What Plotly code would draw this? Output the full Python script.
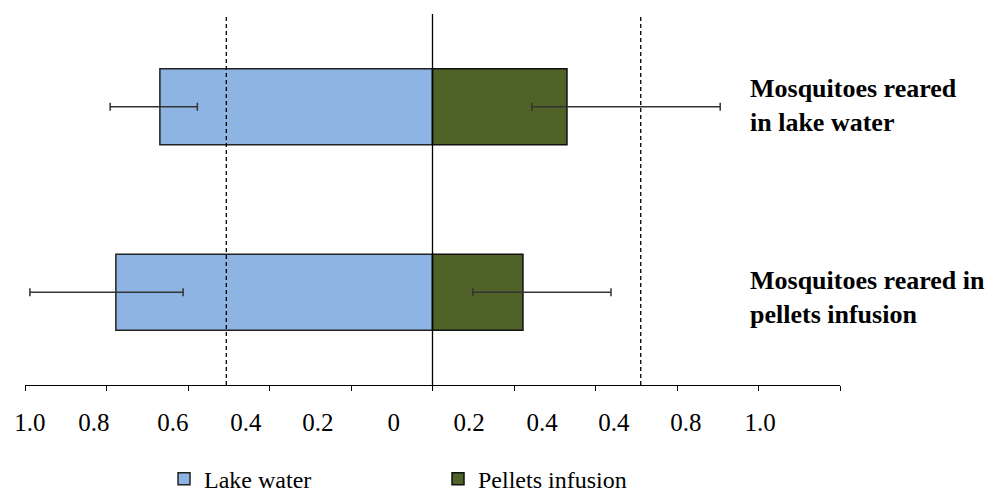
import plotly.graph_objects as go

categories = ["Mosquitoes reared in lake water", "Mosquitoes reared in pellets infusion"]
category_labels = ["Mosquitoes reared<br>in lake water", "Mosquitoes reared in<br>pellets infusion"]
series_names = ["Lake water", "Pellets infusion"]
lake_water = [0.669, 0.777]
lake_err_out = [0.122, 0.211]
lake_err_in = [0.092, 0.165]
pellets = [0.330, 0.222]
pellets_err_minus = [0.086, 0.123]
pellets_err_plus = [0.376, 0.216]
axis_ticks = [-1.0, -0.8, -0.6, -0.4, -0.2, 0.0, 0.2, 0.4, 0.6, 0.8, 1.0]
label_positions = [-0.988, -0.831, -0.637, -0.458, -0.281, -0.095, 0.090, 0.269, 0.445, 0.622, 0.804]
tick_labels = ["1.0", "0.8", "0.6", "0.4", "0.2", "0", "0.2", "0.4", "0.4", "0.8", "1.0"]
threshold_lines = [-0.506, 0.511]

FONT = "Liberation Serif, Times New Roman, Tinos, DejaVu Serif, serif"
fig = go.Figure()
fig.add_trace(go.Bar(
    y=categories, x=[-v for v in lake_water], orientation="h", name=series_names[0],
    marker=dict(color="#8EB4E3", line=dict(color="#222222", width=1.5)),
    width=0.41,
    error_x=dict(type="data", symmetric=False, array=lake_err_in, arrayminus=lake_err_out,
                 color="#333333", thickness=1.5, width=4),
))
fig.add_trace(go.Bar(
    y=categories, x=pellets, orientation="h", name=series_names[1],
    marker=dict(color="#4F6228", line=dict(color="#111111", width=1.5)),
    width=0.41,
    error_x=dict(type="data", symmetric=False, array=pellets_err_plus, arrayminus=pellets_err_minus,
                 color="#333333", thickness=1.5, width=4),
))
# invisible trace to activate label axis
fig.add_trace(go.Scatter(x=[0], y=[categories[0]], xaxis="x2", mode="markers",
                         marker=dict(opacity=0), showlegend=False, hoverinfo="skip"))

fig.update_layout(
    width=994, height=493,
    margin=dict(l=25, r=154, t=14, b=108),
    barmode="relative",
    plot_bgcolor="white", paper_bgcolor="white",
    font=dict(family=FONT, color="black"),
    xaxis=dict(range=[-1, 1], tickvals=axis_ticks, showticklabels=False,
               ticks="outside", ticklen=5, tickcolor="black", tickwidth=1,
               showline=True, linecolor="black", linewidth=1, showgrid=False, zeroline=False),
    xaxis2=dict(range=[-1, 1], overlaying="x", side="bottom", anchor="y",
                tickvals=label_positions, ticktext=tick_labels, ticks="",
                tickfont=dict(family=FONT, size=25, color="black"),
                ticklabelstandoff=20,
                showline=False, showgrid=False, zeroline=False),
    yaxis=dict(categoryorder="array", categoryarray=categories[::-1], range=[-0.5, 1.5],
               visible=False, showgrid=False),
    legend=dict(orientation="h", xref="container", yref="container",
                x=0.165, xanchor="left", y=0.028, yanchor="middle",
                font=dict(family=FONT, size=24, color="black"),
                entrywidth=229, entrywidthmode="pixels", traceorder="normal"),
    showlegend=True,
)

fig.add_shape(type="line", xref="x", yref="paper", x0=0, x1=0, y0=0, y1=1,
              line=dict(color="black", width=1.3))
for t in threshold_lines:
    fig.add_shape(type="line", xref="x", yref="paper", x0=t, x1=t, y0=0, y1=1,
                  line=dict(color="black", width=1.3, dash="4px,3px"))

yshifts = [1, -5]
for cat, lab, ys in zip(categories, category_labels, yshifts):
    fig.add_annotation(x=0.775, y=cat, xref="x", yref="y", text="<b>" + lab + "</b>",
                       showarrow=False, xanchor="left", yanchor="middle", align="left",
                       yshift=ys, font=dict(family=FONT, size=26, color="black"))

fig.write_html("out.html", config={"displayModeBar": False},
               post_script="document.body.style.margin='0';document.body.style.overflow='hidden';")
